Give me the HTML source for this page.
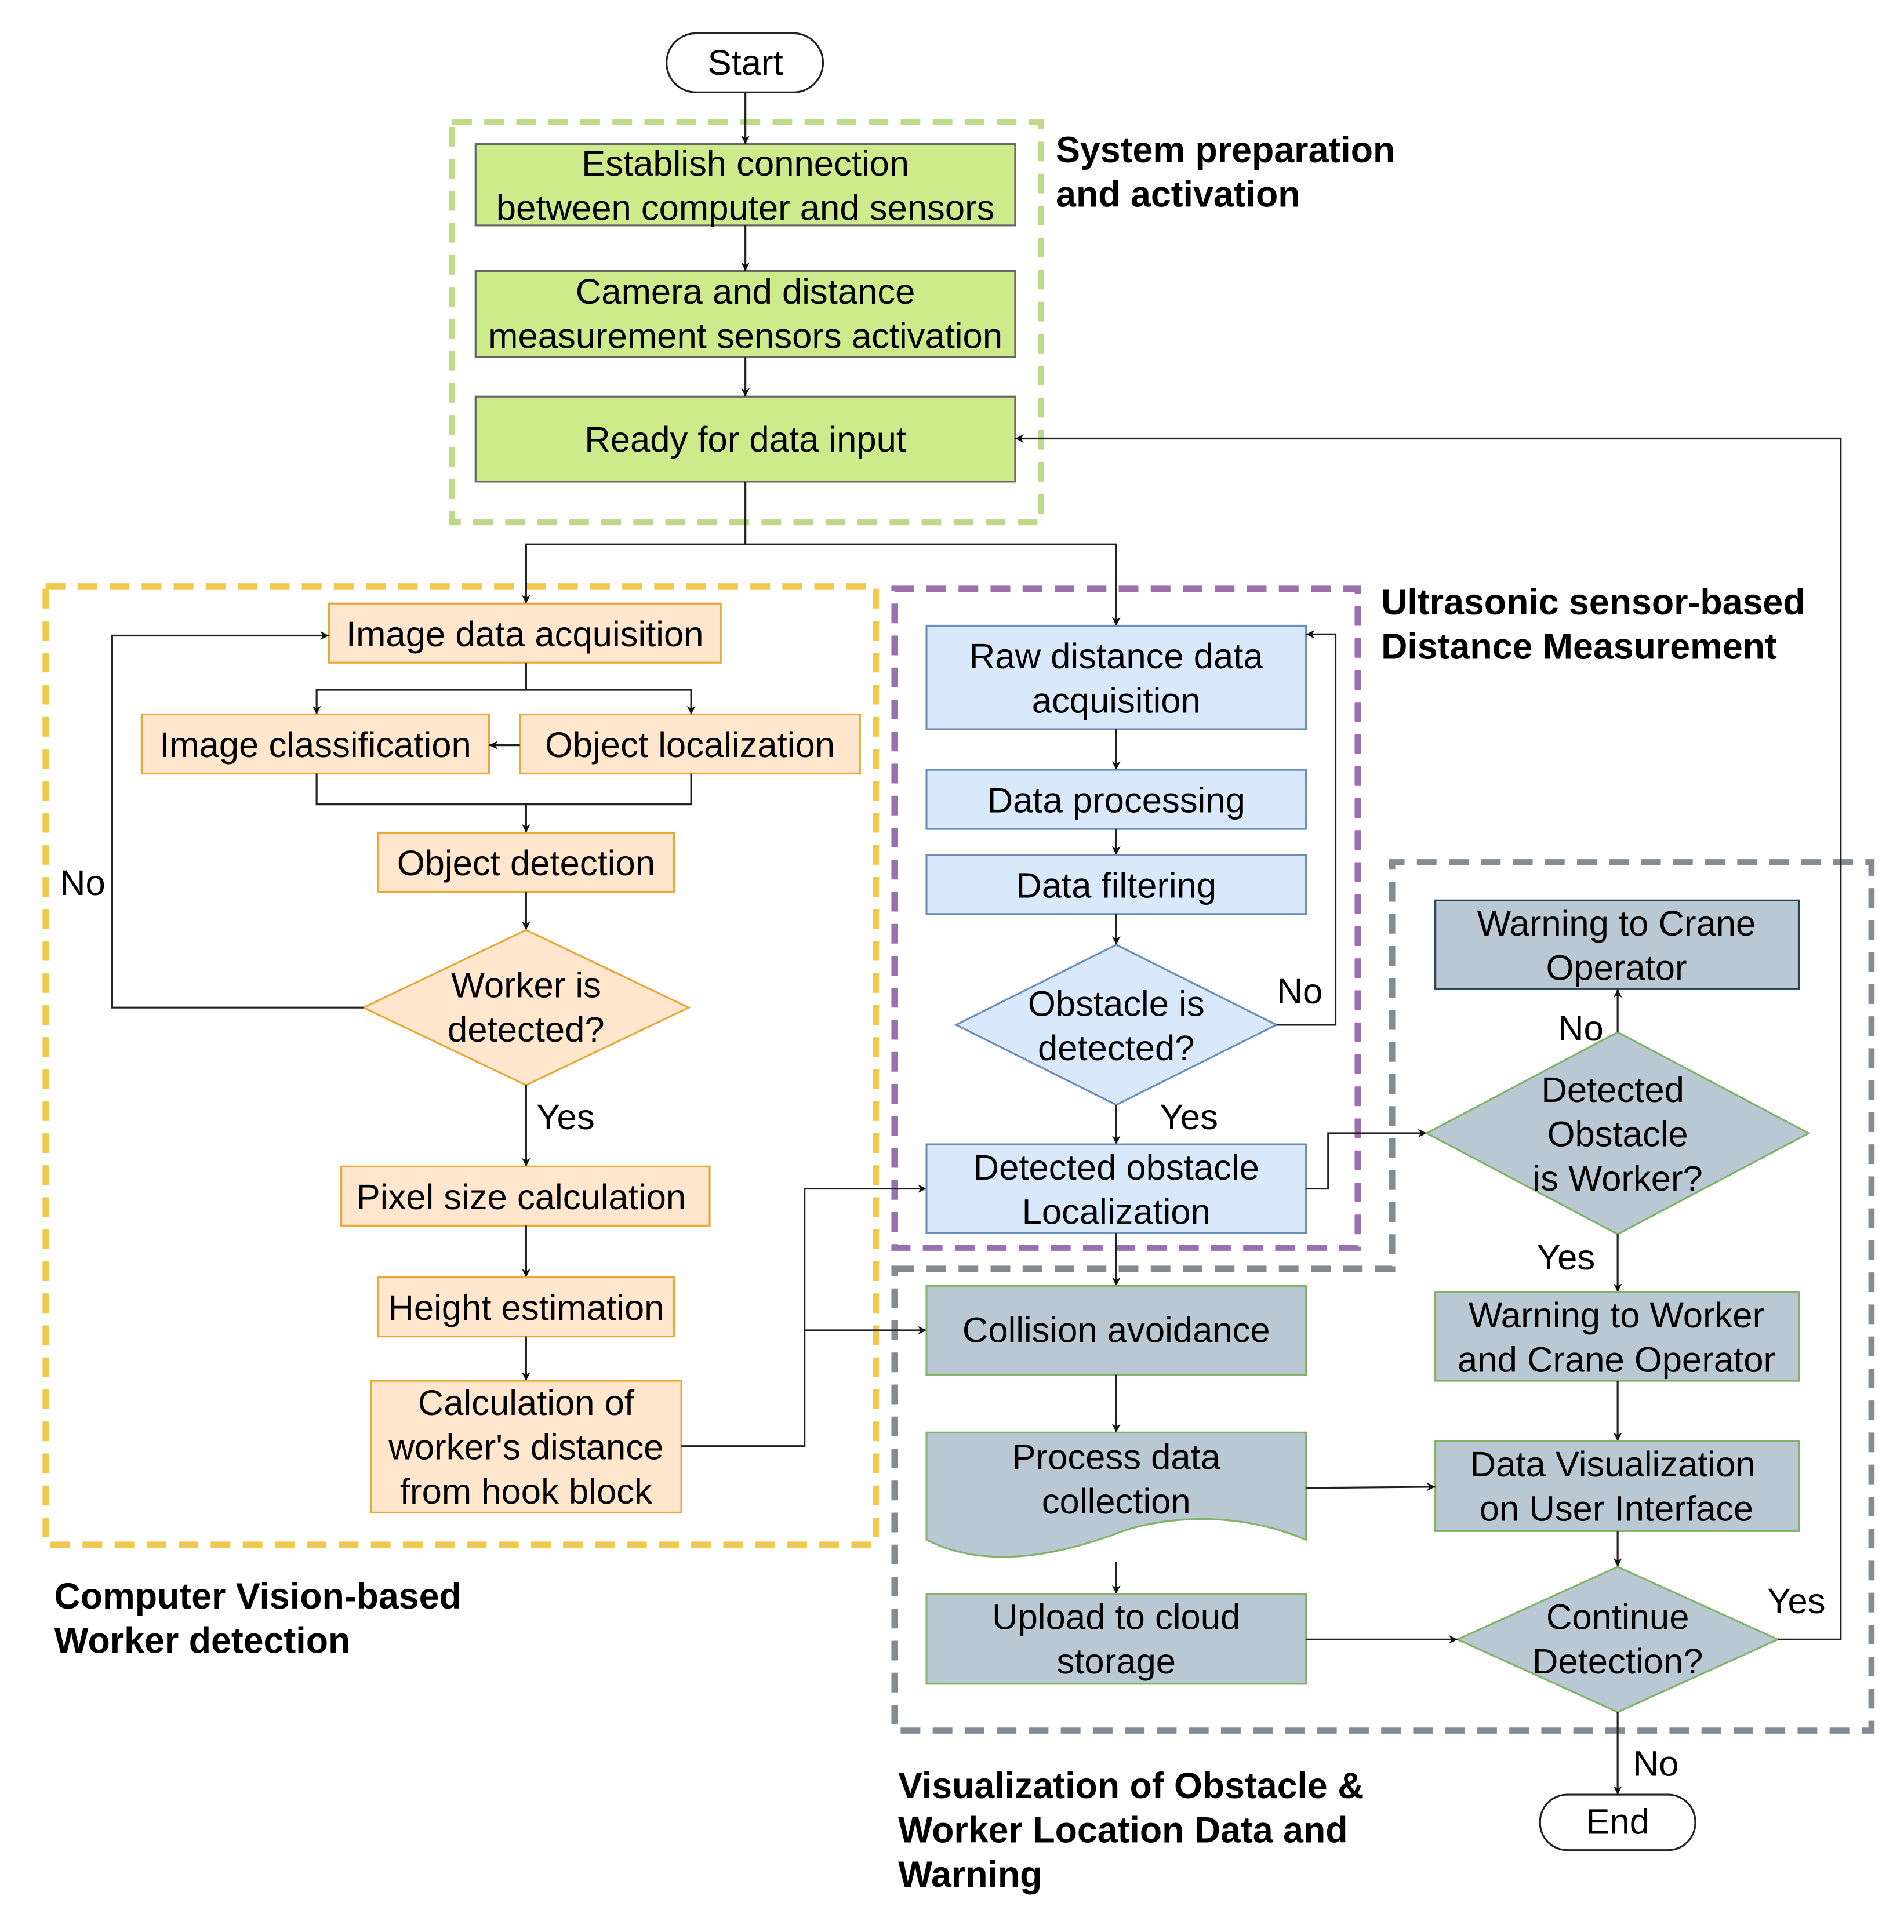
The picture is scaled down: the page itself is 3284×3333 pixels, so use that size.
<!DOCTYPE html>
<html><head><meta charset="utf-8"><style>
html,body{margin:0;padding:0;background:#fff;}
svg{display:block;}
text{font-family:"Liberation Sans",Arial,sans-serif;font-size:29px;fill:#000;text-anchor:middle;dominant-baseline:central;}
.t{font-weight:bold;text-anchor:start;font-size:29.5px;}
.ln{fill:none;stroke:#222;stroke-width:1.5;}
.g{fill:#cdeb8b;stroke:#666;stroke-width:1.5;}
.o{fill:#ffe6cc;stroke:#e8a838;stroke-width:1.5;}
.b{fill:#dae8fc;stroke:#6c8ebf;stroke-width:1.5;}
.s{fill:#bac8d3;stroke:#82b366;stroke-width:1.5;}
</style></head><body>
<svg width="3284" height="3333" viewBox="0 0 1545.4 1568.5" preserveAspectRatio="none" xmlns="http://www.w3.org/2000/svg">
<defs><marker id="a" viewBox="0 0 10 10" refX="10" refY="5" markerWidth="7" markerHeight="7" orient="auto" markerUnits="userSpaceOnUse"><path d="M0,0 L10,5 L0,10 L3,5 z" fill="#111"/></marker></defs>

<rect x="367" y="99" width="478" height="325" fill="none" stroke="#bfd98a" stroke-width="5" stroke-dasharray="16 10"/>
<rect x="37" y="476" width="674" height="778" fill="none" stroke="#efc84e" stroke-width="5" stroke-dasharray="16 10"/>
<rect x="726" y="478" width="376" height="535" fill="none" stroke="#9a70ae" stroke-width="5" stroke-dasharray="16 10"/>
<path d="M726,1030 L1130,1030 L1130,700 L1519,700 L1519,1405 L726,1405 Z" fill="none" stroke="#838b93" stroke-width="5" stroke-dasharray="16 10"/>

<rect x="541" y="27" width="127" height="48" rx="24" fill="#fff" stroke="#222" stroke-width="1.5"/>
<text x="605" y="51">Start</text>

<rect class="g" x="386" y="117" width="438" height="66"/>
<text x="605" y="133">Establish connection</text><text x="605" y="169">between computer and sensors</text>
<rect class="g" x="386" y="220" width="438" height="70"/>
<text x="605" y="237">Camera and distance</text><text x="605" y="273">measurement sensors activation</text>
<rect class="g" x="386" y="322" width="438" height="69"/>
<text x="605" y="357">Ready for data input</text>
<text class="t" x="857" y="122">System preparation</text><text class="t" x="857" y="158">and activation</text>

<path class="ln" d="M605,75 V117" marker-end="url(#a)"/>
<path class="ln" d="M605,183 V220" marker-end="url(#a)"/>
<path class="ln" d="M605,290 V322" marker-end="url(#a)"/>
<path class="ln" d="M605,391 V442 H427 V490" marker-end="url(#a)"/>
<path class="ln" d="M605,442 H906 V508" marker-end="url(#a)"/>

<rect class="o" x="267" y="490" width="318" height="48"/><text x="426" y="515">Image data acquisition</text>
<path class="ln" d="M427,538 V560 H257 V580" marker-end="url(#a)"/>
<path class="ln" d="M427,560 H561 V580" marker-end="url(#a)"/>
<rect class="o" x="115" y="580" width="282" height="48"/><text x="256" y="605">Image classification</text>
<rect class="o" x="422" y="580" width="276" height="48"/><text x="560" y="605">Object localization</text>
<path class="ln" d="M422,605 H397" marker-end="url(#a)"/>
<path class="ln" d="M257,628 V653 H561 V628"/>
<path class="ln" d="M427,653 V676" marker-end="url(#a)"/>
<rect class="o" x="307" y="676" width="240" height="48"/><text x="427" y="701">Object detection</text>
<path class="ln" d="M427,724 V755" marker-end="url(#a)"/>
<path class="o" d="M427,755 L559,818 L427,881 L295,818 Z"/>
<text x="427" y="800">Worker is</text><text x="427" y="836">detected?</text>
<path class="ln" d="M295,818 H91 V516 H267" marker-end="url(#a)"/>
<text x="67" y="717">No</text>
<path class="ln" d="M427,881 V947" marker-end="url(#a)"/>
<text x="459" y="907">Yes</text>
<rect class="o" x="277" y="947" width="299" height="48"/><text x="423" y="972">Pixel size calculation</text>
<path class="ln" d="M427,995 V1037" marker-end="url(#a)"/>
<rect class="o" x="307" y="1037" width="240" height="48"/><text x="427" y="1062">Height estimation</text>
<path class="ln" d="M427,1085 V1121" marker-end="url(#a)"/>
<rect class="o" x="301" y="1121" width="252" height="107"/>
<text x="427" y="1139">Calculation of</text><text x="427" y="1175">worker's distance</text><text x="427" y="1211">from hook block</text>
<path class="ln" d="M553,1174 H653 V965 H752" marker-end="url(#a)"/>
<path class="ln" d="M653,1080 H752" marker-end="url(#a)"/>
<text class="t" x="44" y="1296">Computer Vision-based</text><text class="t" x="44" y="1332">Worker detection</text>

<rect class="b" x="752" y="508" width="308" height="84"/><text x="906" y="533">Raw distance data</text><text x="906" y="569">acquisition</text>
<path class="ln" d="M906,592 V625" marker-end="url(#a)"/>
<rect class="b" x="752" y="625" width="308" height="48"/><text x="906" y="650">Data processing</text>
<path class="ln" d="M906,673 V694" marker-end="url(#a)"/>
<rect class="b" x="752" y="694" width="308" height="48"/><text x="906" y="719">Data filtering</text>
<path class="ln" d="M906,742 V767" marker-end="url(#a)"/>
<path class="b" d="M906,767 L1036,832 L906,897 L776,832 Z"/>
<text x="906" y="815">Obstacle is</text><text x="906" y="851">detected?</text>
<path class="ln" d="M1036,832 H1084 V515 H1060" marker-end="url(#a)"/>
<text x="1055" y="805">No</text>
<path class="ln" d="M906,897 V929" marker-end="url(#a)"/>
<text x="965" y="907">Yes</text>
<rect class="b" x="752" y="929" width="308" height="72"/><text x="906" y="948">Detected obstacle</text><text x="906" y="984">Localization</text>
<text class="t" x="1121" y="489">Ultrasonic sensor-based</text><text class="t" x="1121" y="525">Distance Measurement</text>

<rect x="1165" y="731" width="295" height="72" fill="#bac8d3" stroke="#23445d" stroke-width="1.5"/>
<text x="1312" y="750">Warning to Crane</text><text x="1312" y="786">Operator</text>
<path class="ln" d="M1060,965 H1078 V920 H1158" marker-end="url(#a)"/>
<path class="s" d="M1313,838 L1468,920 L1313,1002 L1158,920 Z"/>
<text x="1309" y="885">Detected</text><text x="1313" y="921">Obstacle</text><text x="1313" y="957">is Worker?</text>
<path class="ln" d="M1313,838 V803" marker-end="url(#a)"/>
<text x="1283" y="835">No</text>
<path class="ln" d="M1313,1002 V1049" marker-end="url(#a)"/>
<text x="1271" y="1021">Yes</text>
<rect class="s" x="1165" y="1049" width="295" height="72"/><text x="1312" y="1068">Warning to Worker</text><text x="1312" y="1104">and Crane Operator</text>
<path class="ln" d="M1313,1121 V1170" marker-end="url(#a)"/>
<rect class="s" x="1165" y="1170" width="295" height="73"/><text x="1309" y="1189">Data Visualization</text><text x="1312" y="1225">on User Interface</text>
<path class="ln" d="M1313,1243 V1272" marker-end="url(#a)"/>
<path class="s" d="M1313,1272 L1443,1331 L1313,1390 L1183,1331 Z"/>
<text x="1313" y="1313">Continue</text><text x="1313" y="1349">Detection?</text>
<path class="ln" d="M1443,1331 H1494 V356 H824" marker-end="url(#a)"/>
<text x="1458" y="1300">Yes</text>
<path class="ln" d="M1313,1390 V1457" marker-end="url(#a)"/>
<text x="1344" y="1432">No</text>
<rect x="1250" y="1457" width="126" height="45" rx="22" fill="#fff" stroke="#222" stroke-width="1.5"/>
<text x="1313" y="1479">End</text>

<path class="ln" d="M906,1001 V1044" marker-end="url(#a)"/>
<rect class="s" x="752" y="1044" width="308" height="72"/><text x="906" y="1080">Collision avoidance</text>
<path class="ln" d="M906,1116 V1163" marker-end="url(#a)"/>
<path class="s" d="M752,1163 H1060 V1250 C1000,1225 940,1232 906,1245 C860,1262 800,1275 752,1250 Z"/>
<text x="906" y="1183">Process data</text><text x="906" y="1219">collection</text>
<path class="ln" d="M1060,1208 L1165,1207" marker-end="url(#a)"/>
<path class="ln" d="M906,1268 V1294" marker-end="url(#a)"/>
<rect class="s" x="752" y="1294" width="308" height="73"/><text x="906" y="1313">Upload to cloud</text><text x="906" y="1349">storage</text>
<path class="ln" d="M1060,1331 H1183" marker-end="url(#a)"/>
<text class="t" x="729" y="1450">Visualization of Obstacle &amp;</text><text class="t" x="729" y="1486">Worker Location Data and</text><text class="t" x="729" y="1522">Warning</text>
</svg>
</body></html>
